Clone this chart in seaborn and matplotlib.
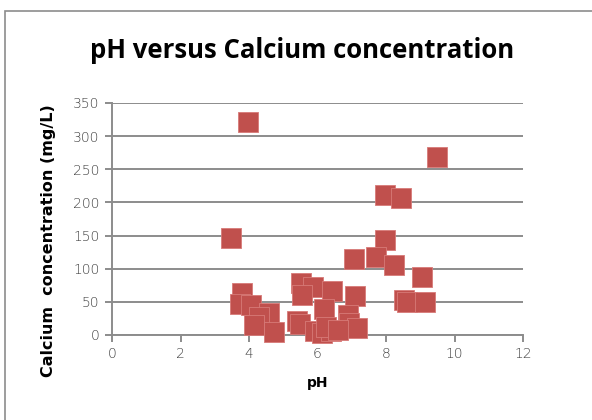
import matplotlib
matplotlib.use("Agg")
import matplotlib.pyplot as plt
import seaborn as sns
import pandas as pd
from matplotlib.patches import Rectangle

ph = [3.97, 9.48, 7.96, 8.43, 3.48, 7.98, 7.06, 7.72, 8.23, 9.04,
      5.51, 5.86, 6.42, 5.54, 3.80, 3.74, 4.05, 7.09, 8.54, 8.62,
      9.15, 6.19, 4.58, 4.29, 4.15, 4.73, 5.41, 5.50, 6.90, 6.92,
      7.16, 5.93, 6.12, 6.40, 6.25, 6.60]
calcium = [321, 268, 211, 206, 146, 143, 114, 118, 105, 88,
           78, 73, 66, 60, 63, 47, 45, 59, 53, 50,
           50, 39, 33, 27, 15, 4, 21, 16, 30, 18,
           11, 6, 3, 6, 12, 8]
x_ticks = [0, 2, 4, 6, 8, 10, 12]
y_ticks = [0, 50, 100, 150, 200, 250, 300, 350]

df = pd.DataFrame({"pH": ph, "Calcium": calcium})

sns.set_style("white")
plt.rcParams['font.family'] = ['DejaVu Sans']

fig = plt.figure(figsize=(5.92, 4.2), dpi=100)
ax = fig.add_axes([112/592, 1 - 335/420, (523 - 112)/592, (335 - 103)/420])

grid_col = "#8c8c8c"
for yv in y_ticks:
    ax.axhline(yv, color=grid_col, lw=1.4, zorder=0)

sns.scatterplot(data=df, x="pH", y="Calcium", marker="s", s=200,
                color="#C0504D", edgecolor="#d77a78", linewidth=0.6,
                ax=ax, zorder=3, clip_on=False)

ax.set_xlim(0, 12)
ax.set_ylim(0, 350)
ax.set_xticks(x_ticks)
ax.set_yticks(y_ticks)
ax.set_xlabel("")
ax.set_ylabel("")
for s in ["top", "right"]:
    ax.spines[s].set_visible(False)
for s in ["left", "bottom"]:
    ax.spines[s].set_color(grid_col)
    ax.spines[s].set_linewidth(1.4)
ax.tick_params(axis="both", which="both", direction="out", length=5,
               width=1.4, color=grid_col, labelsize=10, labelcolor="#404040",
               pad=4, left=True, bottom=True)
for lab in ax.get_xticklabels() + ax.get_yticklabels():
    lab.set_fontweight("light")

fig.text(302/592, 1 - 50/420, "pH versus Calcium concentration",
         ha="center", va="center", fontsize=18.5, fontweight="bold",
         family=["Open Sans", "DejaVu Sans"], color="black")
fig.text(49/592, 1 - 241/420, "Calcium  concentration (mg/L)",
         ha="center", va="center", rotation=90, fontsize=11.5, fontweight="bold",
         color="black")
fig.text(318/592, 1 - 383/420, "pH", ha="center", va="center",
         fontsize=10, fontweight="bold", color="black")

fig.patches.append(Rectangle((5/592, -0.2), 2, 1.2 - 11/420,
                             transform=fig.transFigure, fill=False,
                             edgecolor="#8c8c8c", lw=1.2))

fig.savefig("out.png", dpi=100)
